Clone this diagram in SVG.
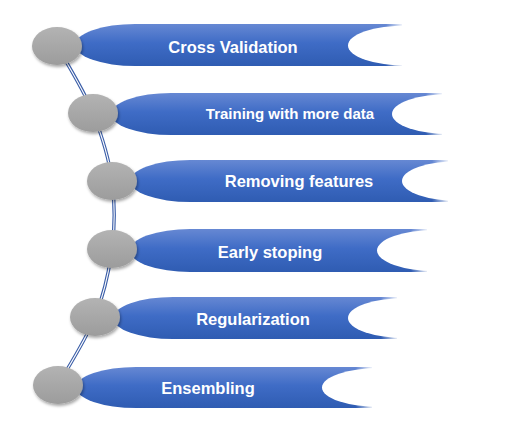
<svg xmlns="http://www.w3.org/2000/svg" width="512" height="430" viewBox="0 0 512 430">
<defs>
<linearGradient id="bandG" x1="0" y1="0" x2="0" y2="1">
<stop offset="0" stop-color="#6688d3"/>
<stop offset="0.45" stop-color="#3f6cc6"/>
<stop offset="1" stop-color="#2f5cb2"/>
</linearGradient>
<linearGradient id="circG" x1="0" y1="0" x2="0" y2="1">
<stop offset="0" stop-color="#b3b3b3"/>
<stop offset="1" stop-color="#9c9c9c"/>
</linearGradient>
<linearGradient id="fadeR" x1="0" y1="0" x2="1" y2="0">
<stop offset="0" stop-color="#ffffff" stop-opacity="0"/>
<stop offset="1" stop-color="#ffffff" stop-opacity="1"/>
</linearGradient>
<filter id="sh" x="-30%" y="-30%" width="160%" height="170%">
<feDropShadow dx="1" dy="2" stdDeviation="1.5" flood-color="#000" flood-opacity="0.35"/>
</filter>
</defs>
<style>
.band{fill:url(#bandG);}
.cut{fill:#ffffff;}
.fade{fill:url(#fadeR);}
.circ{fill:url(#circG);filter:url(#sh);}
.lbl{font-family:"Liberation Sans",Arial,sans-serif;font-weight:bold;fill:#ffffff;text-anchor:middle;font-size:16.5px;}
.sm{font-size:15px;}
.lineO{fill:none;stroke:#3b5ea8;stroke-width:3.4;}
.lineI{fill:none;stroke:#ffffff;stroke-width:1.1;}
</style>
<g id="connectors">
<path class="lineO" d="M57,46 C63,57 84,90 93,113 C102,136 109,158 112,181 C115,204 115,226 112,249 C109,272 104,294 95,317 C86,340 64,374 58,385"/>
<path class="lineI" d="M57,46 C63,57 84,90 93,113 C102,136 109,158 112,181 C115,204 115,226 112,249 C109,272 104,294 95,317 C86,340 64,374 58,385"/>
</g>
<g id="node-cross-validation">
<path class="band" d="M402,24 L135,24 A60,21 0 0 0 135,66 L402,66 Z"/>
<ellipse class="cut" cx="406" cy="45.5" rx="58" ry="20"/>
<rect class="fade" x="386" y="22" width="18" height="46"/>
<ellipse class="circ" cx="57" cy="46" rx="25" ry="19"/>
<text class="lbl" x="233" y="53">Cross Validation</text>
</g>
<g id="node-training">
<path class="band" d="M442,93 L171,93 A60,21 0 0 0 171,135 L442,135 Z"/>
<ellipse class="cut" cx="450" cy="114" rx="58" ry="20"/>
<rect class="fade" x="426" y="91" width="18" height="46"/>
<ellipse class="circ" cx="93" cy="113" rx="25" ry="19"/>
<text class="lbl sm" x="290" y="119">Training with more data</text>
</g>
<g id="node-removing">
<path class="band" d="M448,160 L190,160 A60,21 0 0 0 190,202 L448,202 Z"/>
<ellipse class="cut" cx="460" cy="181" rx="58" ry="20"/>
<rect class="fade" x="432" y="158" width="18" height="46"/>
<ellipse class="circ" cx="112" cy="181" rx="25" ry="19"/>
<text class="lbl" x="299" y="187">Removing features</text>
</g>
<g id="node-early-stoping">
<path class="band" d="M427,229 L190,229 A60,21.5 0 0 0 190,272 L427,272 Z"/>
<ellipse class="cut" cx="435" cy="250.5" rx="58" ry="20.5"/>
<rect class="fade" x="411" y="227" width="18" height="47"/>
<ellipse class="circ" cx="112" cy="249" rx="25" ry="19"/>
<text class="lbl" x="270" y="258">Early stoping</text>
</g>
<g id="node-regularization">
<path class="band" d="M397,297 L173,297 A60,21 0 0 0 173,339 L397,339 Z"/>
<ellipse class="cut" cx="406" cy="318" rx="58" ry="20"/>
<rect class="fade" x="381" y="295" width="18" height="46"/>
<ellipse class="circ" cx="95" cy="317" rx="25" ry="19"/>
<text class="lbl" x="253" y="325">Regularization</text>
</g>
<g id="node-ensembling">
<path class="band" d="M372,367 L136,367 A60,20.5 0 0 0 136,408 L372,408 Z"/>
<ellipse class="cut" cx="380" cy="387.5" rx="58" ry="19.5"/>
<rect class="fade" x="356" y="365" width="18" height="45"/>
<ellipse class="circ" cx="58" cy="385" rx="25" ry="19"/>
<text class="lbl" x="208" y="394">Ensembling</text>
</g>
</svg>
